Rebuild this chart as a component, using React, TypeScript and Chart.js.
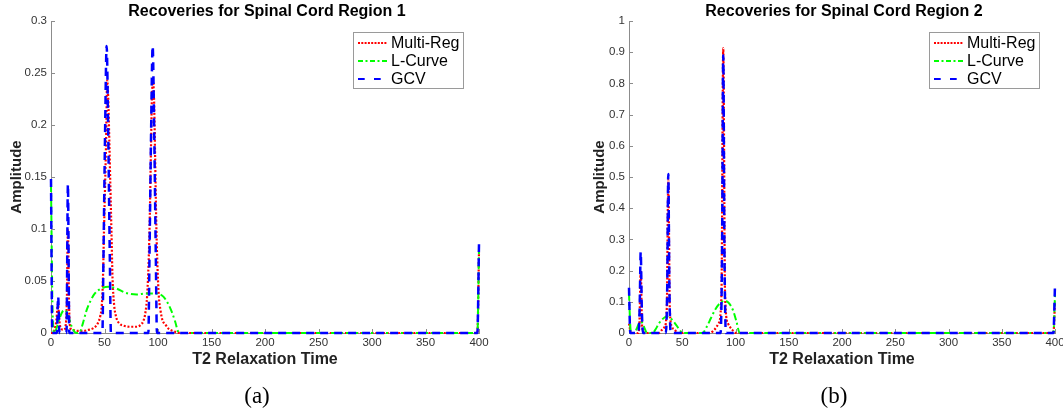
import React, { useEffect, useRef } from 'react';
import { Chart, registerables } from 'chart.js';

Chart.register(...registerables);

const SANS = '"Liberation Sans", Arial, Helvetica, sans-serif';

// ---- shared ----
const seriesNames = ['Multi-Reg', 'L-Curve', 'GCV'];
const seriesColors = ['#ff0000', '#00ff00', '#0000ff'];
const seriesDash = [[2, 1.8], [7, 3, 2, 3], [8, 6]];
const seriesWidth = [2.2, 2, 2.5];
const xTickValues = [0, 50, 100, 150, 200, 250, 300, 350, 400];

// ---- Region 1 ----
const title1 = 'Recoveries for Spinal Cord Region 1';
const yTicks1 = [0, 0.05, 0.1, 0.15, 0.2, 0.25, 0.3];
const mr1T = [0, 2, 3.5, 5, 6.5, 8, 9.5, 12, 13.5, 14.8, 15.8, 16.8, 18, 20, 25, 30, 35, 40, 43, 44.5, 46, 47.5, 48.5, 49.5, 50.5, 51.5, 52.5, 53.5, 54.5, 55.5, 56.5, 57.5, 59, 61, 64, 68, 74, 80, 84, 86.5, 88.3, 89.8, 91.3, 92.3, 93.3, 94.3, 95.3, 96.3, 97.3, 98.3, 99.3, 100.8, 102.3, 104, 107, 110, 114, 118, 121, 398.5, 400];
const mr1Y = [0, 0, 0.004, 0.012, 0.028, 0.01, 0.004, 0.003, 0.006, 0.03, 0.099, 0.03, 0.005, 0.003, 0.002, 0.002, 0.003, 0.005, 0.008, 0.011, 0.016, 0.027, 0.05, 0.097, 0.14, 0.185, 0.243, 0.225, 0.185, 0.14, 0.097, 0.053, 0.027, 0.015, 0.009, 0.007, 0.006, 0.006, 0.008, 0.012, 0.02, 0.035, 0.07, 0.11, 0.17, 0.225, 0.243, 0.225, 0.17, 0.11, 0.07, 0.035, 0.022, 0.013, 0.008, 0.004, 0.002, 0.0005, 0, 0, 0.078];
const lc1T = [0, 1.5, 3, 5, 8, 11, 13, 16, 19, 22, 24, 27, 30, 33, 36.5, 41, 47, 53.5, 61, 70, 80, 89, 98, 105, 110, 113, 116, 119, 121, 398.5, 400];
const lc1Y = [0.142, 0.02, 0, 0.004, 0.014, 0.021, 0.022, 0.017, 0.007, 0.001, 0, 0.001, 0.01, 0.021, 0.03, 0.038, 0.0428, 0.0444, 0.0428, 0.0385, 0.037, 0.038, 0.038, 0.035, 0.027, 0.02, 0.011, 0.001, 0, 0, 0.08];
const gcv1T = [0, 1.2, 5.5, 6.7, 7.9, 14.5, 15.8, 17.1, 48, 49, 50.5, 52, 53.5, 55, 56, 91, 92, 93.5, 95, 96.5, 98, 99, 398.5, 400];
const gcv1Y = [0.148, 0, 0, 0.035, 0, 0, 0.143, 0, 0, 0.07, 0.19, 0.276, 0.19, 0.07, 0, 0, 0.07, 0.19, 0.276, 0.19, 0.07, 0, 0, 0.086];

// ---- Region 2 ----
const title2 = 'Recoveries for Spinal Cord Region 2';
const yTicks2 = [0, 0.1, 0.2, 0.3, 0.4, 0.5, 0.6, 0.7, 0.8, 0.9, 1];
const mr2T = [0, 2, 8.5, 9.8, 11, 12.2, 13.5, 15, 28, 31, 33.5, 35.5, 36.9, 38.3, 40.3, 43, 46, 76, 80, 84, 86.8, 88.5, 90.2, 93, 97, 101, 398.5, 400];
const mr2Y = [0.03, 0, 0, 0.03, 0.2, 0.03, 0.005, 0, 0, 0.01, 0.02, 0.08, 0.49, 0.08, 0.02, 0.01, 0, 0, 0.01, 0.03, 0.12, 0.913, 0.12, 0.03, 0.01, 0, 0, 0.1];
const lc2T = [0, 1.5, 3, 5, 7, 9, 11, 13, 15, 17, 22, 25, 28, 31, 35, 39, 43, 47, 50.5, 69, 73, 77, 81, 85, 90, 94, 98, 101, 104, 398.5, 400];
const lc2Y = [0.125, 0.01, 0, 0, 0.012, 0.028, 0.035, 0.03, 0.012, 0, 0, 0.012, 0.03, 0.043, 0.052, 0.047, 0.032, 0.013, 0, 0, 0.02, 0.048, 0.075, 0.094, 0.103, 0.095, 0.07, 0.035, 0, 0, 0.12];
const gcv2T = [0, 1.2, 8.8, 10, 11, 12, 13.2, 34.6, 35.9, 36.9, 37.9, 39.2, 86, 87.4, 88.5, 89.6, 91, 398.5, 400];
const gcv2Y = [0.145, 0, 0, 0.08, 0.26, 0.08, 0, 0, 0.15, 0.51, 0.15, 0, 0, 0.27, 0.89, 0.27, 0, 0, 0.155];

const toPoints = (t: number[], y: number[]) => t.map((x, i) => ({ x, y: y[i] }));

type PanelProps = {
  left: number;
  width: number;
  title: string;
  yMax: number;
  yStep: number;
  yTicks: number[];
  series: { t: number[]; y: number[] }[];
  padLeft: number;
  padRight: number;
  yWidth: number;
};

function Panel(props: PanelProps) {
  const ref = useRef<HTMLCanvasElement | null>(null);
  useEffect(() => {
    if (!ref.current) return;
    const { title, yMax, yStep, yTicks, series, padLeft, padRight, yWidth } = props;

    const decor = {
      id: 'decor',
      beforeDatasetsDraw(chart: any) {
        const { ctx, chartArea: ca, scales } = chart;
        ctx.save();
        ctx.strokeStyle = '#8c8c8c';
        ctx.lineWidth = 1;
        const xs = scales.x;
        xTickValues.forEach((v) => {
          const px = Math.round(xs.getPixelForValue(v)) + 0.5;
          ctx.beginPath();
          ctx.moveTo(px, ca.bottom);
          ctx.lineTo(px, ca.bottom - 4);
          ctx.stroke();
        });
        const ys = scales.y;
        yTicks.forEach((v) => {
          const py = Math.round(ys.getPixelForValue(v)) + 0.5;
          ctx.beginPath();
          ctx.moveTo(ca.left, py);
          ctx.lineTo(ca.left + 4, py);
          ctx.stroke();
        });
        ctx.restore();
      },
      afterDraw(chart: any) {
        const { ctx, chartArea: ca } = chart;
        ctx.save();
        // title
        ctx.fillStyle = '#000';
        ctx.font = `bold 16px ${SANS}`;
        ctx.textAlign = 'center';
        ctx.textBaseline = 'middle';
        ctx.fillText(title, (ca.left + ca.right) / 2 + 2, 12);
        // legend
        const bw = 110;
        const bh = 56;
        const bx = Math.round(ca.right - 16 - bw) + 0.5;
        const by = Math.round(ca.top + 11) + 0.5;
        ctx.fillStyle = '#fff';
        ctx.fillRect(bx, by, bw, bh);
        ctx.strokeStyle = '#9a9a9a';
        ctx.lineWidth = 1;
        ctx.strokeRect(bx, by, bw, bh);
        const legDash = [[2, 1.3], [5, 2.5, 2, 2.5], [6.7, 9.3]];
        seriesNames.forEach((name, i) => {
          const ly = by + 10.5 + i * 18;
          ctx.strokeStyle = seriesColors[i];
          ctx.lineWidth = 2;
          ctx.setLineDash(legDash[i]);
          ctx.beginPath();
          ctx.moveTo(bx + 4.5, ly);
          ctx.lineTo(bx + 34, ly);
          ctx.stroke();
          ctx.setLineDash([]);
          ctx.fillStyle = '#000';
          ctx.font = `16px ${SANS}`;
          ctx.textAlign = 'left';
          ctx.textBaseline = 'middle';
          ctx.fillText(name, bx + 37.5, ly + 1);
        });
        ctx.restore();
      },
    };

    const chart = new Chart(ref.current, {
      type: 'line',
      data: {
        datasets: series.map((s, i) => ({
          label: seriesNames[i],
          data: toPoints(s.t, s.y),
          borderColor: seriesColors[i],
          backgroundColor: seriesColors[i],
          borderWidth: seriesWidth[i],
          borderDash: seriesDash[i],
          pointRadius: 0,
          fill: false,
          cubicInterpolationMode: 'monotone',
          borderJoinStyle: 'round',
          order: 3 - i,
          clip: 4,
        })),
      },
      options: {
        responsive: false,
        animation: false,
        parsing: false,
        layout: { padding: { top: 21, left: padLeft, right: padRight, bottom: 43 } },
        plugins: {
          legend: { display: false },
          title: { display: false },
          tooltip: { enabled: false },
        },
        scales: {
          x: {
            type: 'linear',
            min: 0,
            max: 400,
            afterFit: (s: any) => { s.height = 36; },
            afterBuildTicks: (s: any) => { s.ticks = xTickValues.map((v) => ({ value: v })); },
            ticks: {
              stepSize: 50,
              padding: 3,
              color: '#333',
              font: { family: SANS, size: 11.5 },
              maxRotation: 0,
              callback: (v: any) => String(v),
            },
            grid: { display: true, drawOnChartArea: false, drawTicks: false },
            border: { display: true, color: '#8c8c8c', width: 1 },
            title: {
              display: true,
              text: 'T2 Relaxation Time',
              color: '#222',
              font: { family: SANS, size: 16, weight: 'bold' },
              padding: { top: 0, bottom: 0 },
            },
          },
          y: {
            type: 'linear',
            min: 0,
            max: yMax,
            afterFit: (s: any) => { s.width = yWidth; },
            afterBuildTicks: (s: any) => { s.ticks = yTicks.map((v) => ({ value: v })); },
            ticks: {
              stepSize: yStep,
              padding: 4,
              color: '#333',
              font: { family: SANS, size: 11.5 },
              callback: (v: any) => String(+Number(v).toFixed(2)),
            },
            grid: { display: true, drawOnChartArea: false, drawTicks: false },
            border: { display: true, color: '#8c8c8c', width: 1 },
            title: {
              display: true,
              text: 'Amplitude',
              color: '#222',
              font: { family: SANS, size: 15, weight: 'bold' },
              padding: { top: 8, bottom: 0 },
            },
          },
        },
      },
      plugins: [decor],
    } as any);
    return () => chart.destroy();
  }, []);
  return (
    <canvas
      ref={ref}
      width={props.width}
      height={412}
      style={{ position: 'absolute', left: props.left, top: 0, width: props.width, height: 412 }}
    />
  );
}

export default function App() {
  const capStyle: React.CSSProperties = {
    position: 'absolute',
    top: 382,
    width: 60,
    textAlign: 'center',
    fontFamily: '"Liberation Serif", "DejaVu Serif", serif',
    fontSize: 23,
    lineHeight: '28px',
    color: '#000',
  };
  return (
    <div style={{ position: 'absolute', left: 0, top: 0, width: 1063, height: 412, overflow: 'hidden', background: '#fff' }}>
      <Panel
        left={0}
        width={531}
        title={title1}
        yMax={0.3}
        yStep={0.05}
        yTicks={yTicks1}
        series={[{ t: mr1T, y: mr1Y }, { t: lc1T, y: lc1Y }, { t: gcv1T, y: gcv1Y }]}
        padLeft={0}
        padRight={52}
        yWidth={51}
      />
      <Panel
        left={531}
        width={545}
        title={title2}
        yMax={1}
        yStep={0.1}
        yTicks={yTicks2}
        series={[{ t: mr2T, y: mr2Y }, { t: lc2T, y: lc2Y }, { t: gcv2T, y: gcv2Y }]}
        padLeft={52}
        padRight={21}
        yWidth={46}
      />
      <div style={{ ...capStyle, left: 257 - 30 }}>(a)</div>
      <div style={{ ...capStyle, left: 834 - 30 }}>(b)</div>
    </div>
  );
}
